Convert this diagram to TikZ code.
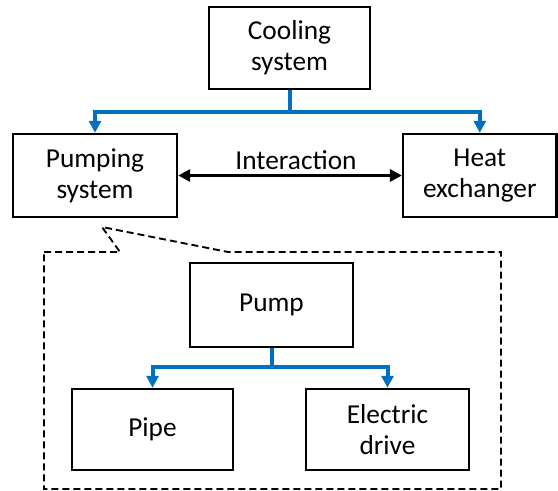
\documentclass[tikz,border=0pt]{standalone}
\usepackage{fontspec}
\setmainfont{Carlito}
\usetikzlibrary{arrows.meta}
\definecolor{linkblue}{RGB}{0,112,192}
\begin{document}
\begin{tikzpicture}[x=0.75pt,y=-0.75pt,
  txt/.style={font=\fontsize{20.5}{23}\selectfont},
  box/.style={draw,line width=1.8pt,align=center,inner sep=0pt,txt},
  tree/.style={draw=linkblue,line width=3pt,-{Triangle[length=9pt,width=9pt]}},
  interact/.style={line width=2.6pt,{Triangle[length=9pt,width=9pt]}-{Triangle[length=9pt,width=9pt]}},
  callout/.style={draw,line width=1.4pt,dash pattern=on 5.25pt off 3pt}]
\useasboundingbox (0,0) rectangle (558,491);
% top level
\node[box,minimum width=120.75pt,minimum height=61.5pt] (cool) at (289.5,48) {Cooling\\system};
\node[box,minimum width=123pt,minimum height=62.25pt] (pumping) at (95,175.5) {Pumping\\system};
\node[box,minimum width=115pt,minimum height=62.25pt] (heat) at (479.8,175.5) {Heat\\exchanger};
\coordinate (j1) at (289.5,112);
\draw[tree] (cool.south) -- (j1) -| (pumping.north);
\draw[tree] (j1) -| (heat.north);
\draw[interact] (pumping.east) -- (heat.west);
\node[txt,anchor=base] (lab) at (296,170) {Interaction};
% callout
\draw[callout] (44,252) -- (120,252) -- (102,227) -- (228,252) -- (501,252) -- (501,489) -- (44,489) -- cycle;
% sub level
\node[box,minimum width=122.25pt,minimum height=63pt] (pump) at (271.5,305) {Pump};
\node[box,minimum width=120.75pt,minimum height=60.75pt] (pipe) at (152.5,429.5) {Pipe};
\node[box,minimum width=122.25pt,minimum height=60.75pt] (drive) at (387.5,429.5) {Electric\\drive};
\coordinate (j2) at (271.5,367);
\draw[tree] (pump.south) -- (j2) -| (pipe.north);
\draw[tree] (j2) -| (drive.north);
\end{tikzpicture}
\end{document}
